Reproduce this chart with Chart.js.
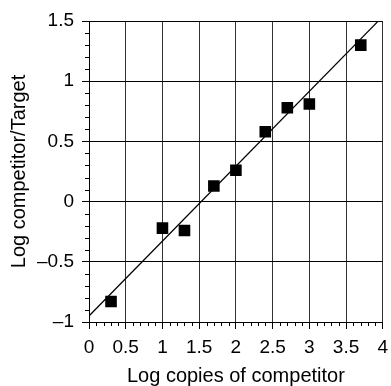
<!DOCTYPE html>
<html>
<head>
<meta charset="utf-8">
<script src="https://cdn.jsdelivr.net/npm/chart.js@4/dist/chart.umd.min.js"></script>
<style>
  html, body { margin: 0; padding: 0; background: #fff; }
  canvas { display: block; }
</style>
</head>
<body>
<canvas id="c" width="391" height="386"></canvas>
<script>
// Competitive PCR calibration: log competitor/target ratio vs log competitor copies
const logCopies = [0.3, 1.0, 1.3, 1.7, 2.0, 2.4, 2.7, 3.0, 3.7];
const logRatio  = [-0.83, -0.22, -0.24, 0.13, 0.26, 0.58, 0.78, 0.81, 1.30];

// Regression line
const fitIntercept = -0.95;
const fitSlope = 0.622;
const fitX = [0, 4];

const xTicks = [0, 0.5, 1, 1.5, 2, 2.5, 3, 3.5, 4];
const yTicks = [-1, -0.5, 0, 0.5, 1, 1.5];

const FONT = '"Liberation Sans", Arial, Helvetica, sans-serif';

const points = logCopies.map((x, i) => ({ x, y: logRatio[i] }));
const fitPoints = fitX.map(x => ({ x, y: fitIntercept + fitSlope * x }));

const fmt = v => (v < 0 ? '\u2013' + Math.abs(v) : String(v));

// Short minor tick marks every 0.1 on both axes
const minorTicks = {
  id: 'minorTicks',
  afterDraw(chart) {
    const { ctx, scales: { x, y }, chartArea: a } = chart;
    ctx.save();
    ctx.strokeStyle = '#000';
    ctx.lineWidth = 1;
    ctx.beginPath();
    for (let i = -10; i <= 15; i++) {
      if (i % 5 === 0) continue;
      const py = Math.round(y.getPixelForValue(i / 10)) + 0.5;
      ctx.moveTo(a.left - 4, py);
      ctx.lineTo(a.left, py);
    }
    for (let i = 0; i <= 40; i++) {
      if (i % 5 === 0) continue;
      const px = Math.round(x.getPixelForValue(i / 10)) + 0.5;
      ctx.moveTo(px, a.bottom);
      ctx.lineTo(px, a.bottom + 4);
    }
    ctx.stroke();
    ctx.restore();
  }
};

new Chart(document.getElementById('c'), {
  type: 'scatter',
  data: {
    datasets: [
      {
        type: 'line',
        data: fitPoints,
        borderColor: '#000',
        borderWidth: 1.2,
        pointRadius: 0,
        fill: false,
        order: 2
      },
      {
        data: points,
        pointStyle: 'rect',
        pointRadius: 8.2,
        backgroundColor: '#000',
        borderColor: '#000',
        borderWidth: 0,
        order: 1
      }
    ]
  },
  options: {
    responsive: false,
    animation: false,
    events: [],
    layout: { padding: { top: 21, right: 3, left: 0, bottom: 0 } },
    plugins: { legend: { display: false }, tooltip: { enabled: false } },
    scales: {
      x: {
        type: 'linear',
        min: 0, max: 4,
        afterBuildTicks: s => { s.ticks = xTicks.map(v => ({ value: v })); },
        afterFit: s => { s.height = 64; s.paddingLeft = 0; s.paddingRight = 0; },
        ticks: {
          color: '#000',
          padding: 7,
          maxRotation: 0,
          autoSkip: false,
          font: { family: FONT, size: 19 },
          callback: fmt
        },
        grid: { color: '#333', lineWidth: 1, tickLength: 7, tickColor: '#000' },
        border: { color: '#000', width: 1 },
        title: {
          display: true,
          text: 'Log copies of competitor',
          color: '#000',
          font: { family: FONT, size: 20, lineHeight: 1 },
          padding: { top: 0, bottom: 0 }
        }
      },
      y: {
        type: 'linear',
        min: -1, max: 1.5,
        afterBuildTicks: s => { s.ticks = yTicks.map(v => ({ value: v })); },
        afterFit: s => { s.width = 89; s.paddingTop = 0; s.paddingBottom = 0; },
        ticks: {
          color: '#000',
          padding: 8,
          autoSkip: false,
          font: { family: FONT, size: 19 },
          callback: fmt
        },
        grid: { color: '#000', lineWidth: 1, tickLength: 7, tickColor: '#000' },
        border: { color: '#000', width: 1 },
        title: {
          display: true,
          text: 'Log competitor/Target',
          color: '#000',
          font: { family: FONT, size: 20, lineHeight: 1 },
          padding: { top: 9, bottom: 0 }
        }
      }
    }
  },
  plugins: [minorTicks]
});
</script>
</body>
</html>
